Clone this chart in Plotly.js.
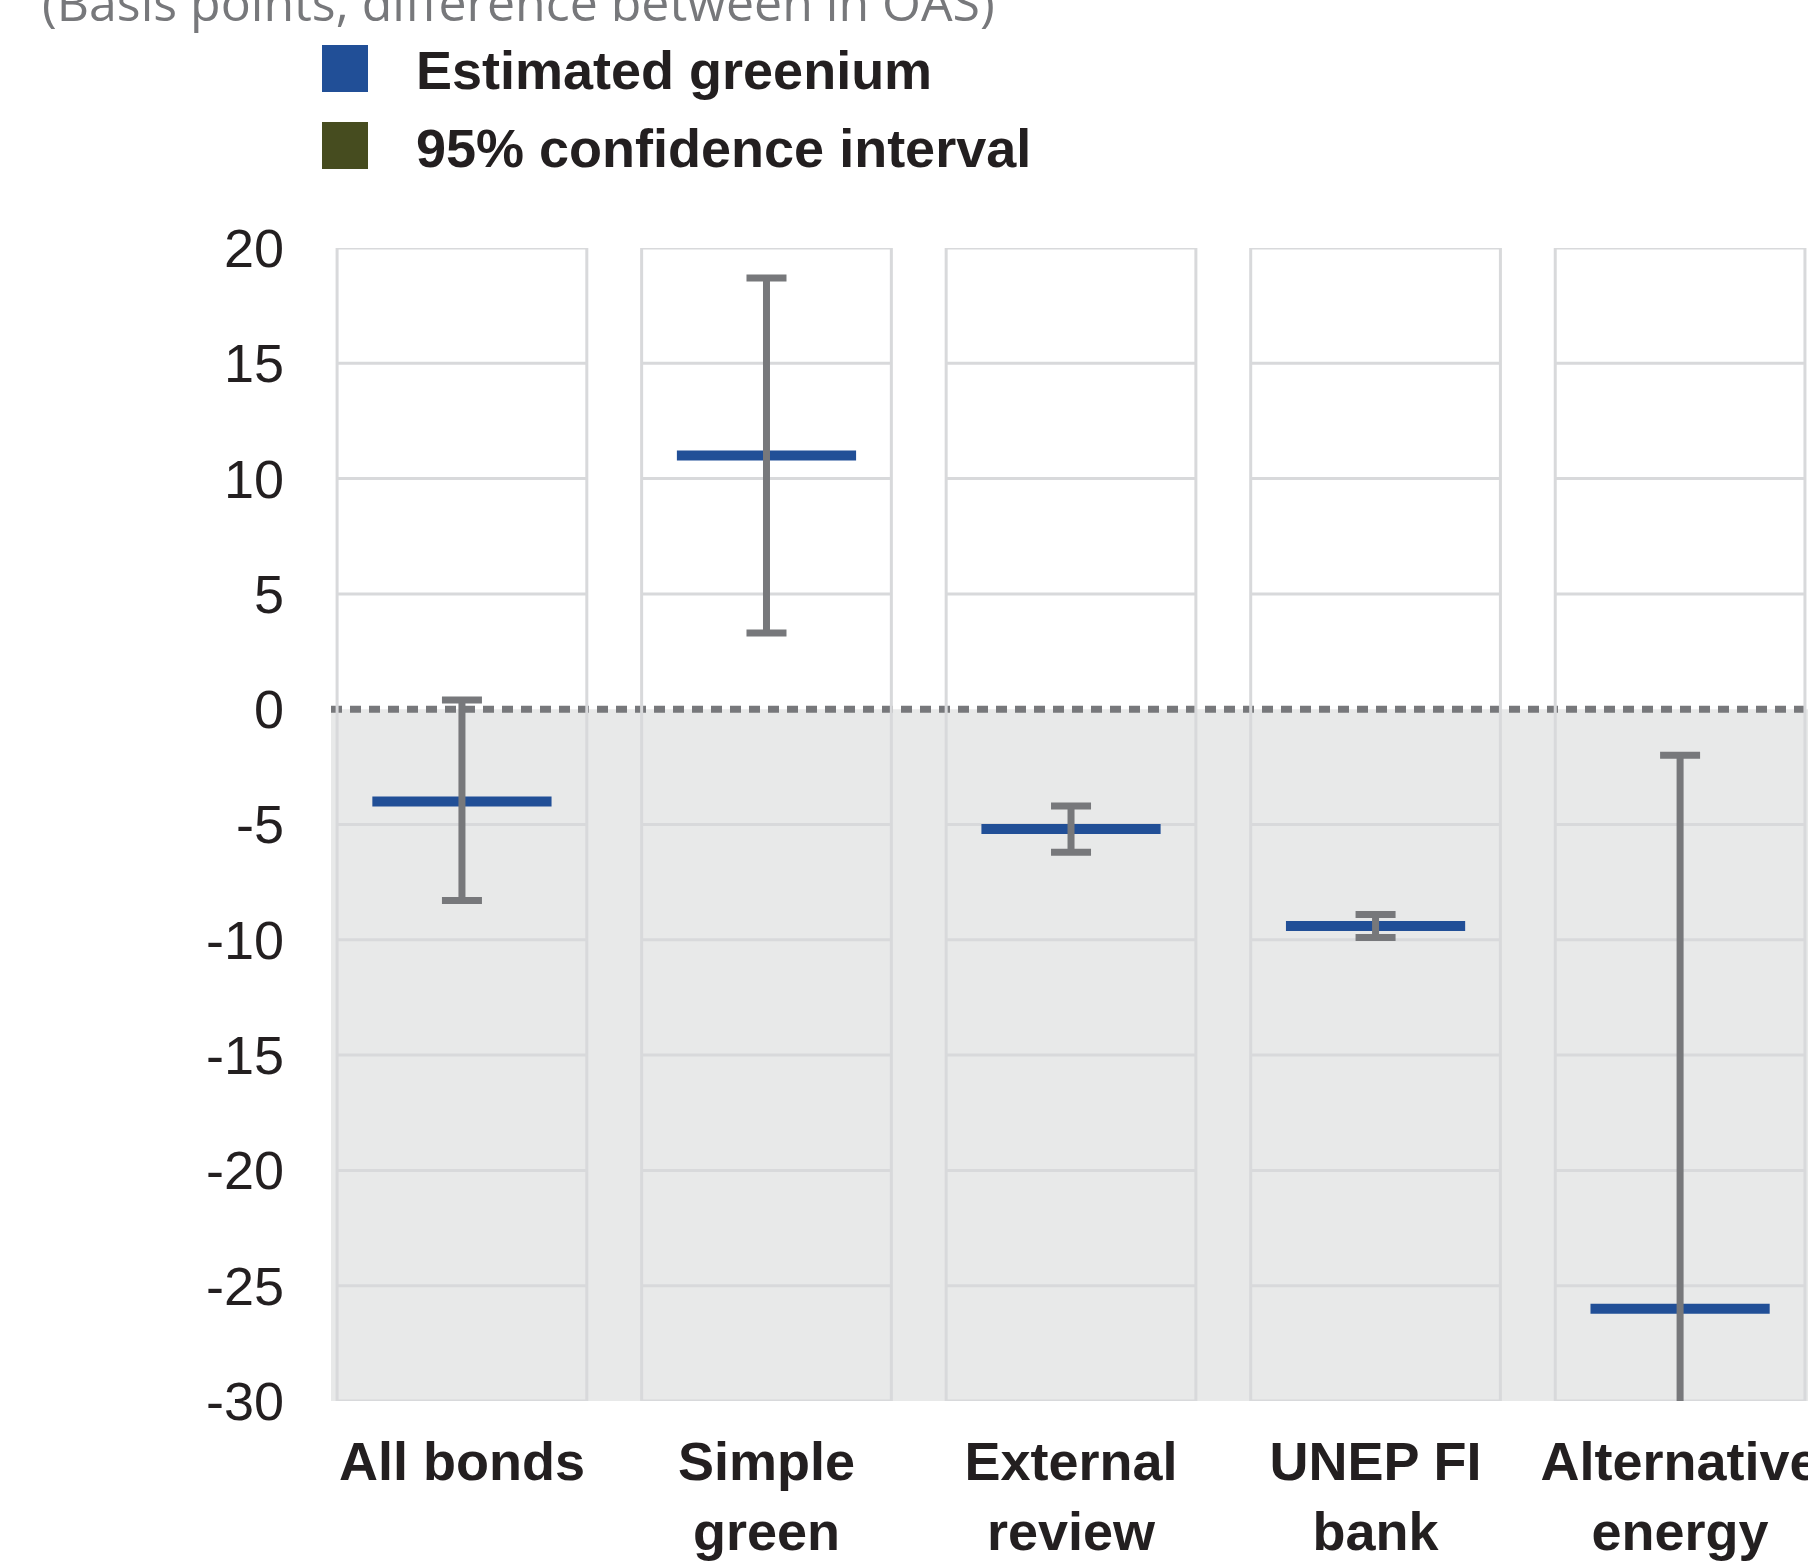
<!DOCTYPE html>
<html>
<head>
<meta charset="utf-8">
<script src="https://cdn.plot.ly/plotly-3.0.1.min.js"></script>
<style>
  html, body { margin: 0; padding: 0; background: #ffffff; }
  #chart { width: 1808px; height: 1566px; }
</style>
</head>
<body>
<div id="chart"></div>
<script>
// ---------------- data ----------------
const categories = ['All bonds', 'Simple<br>green', 'External<br>review', 'UNEP FI<br>bank', 'Alternative<br>energy'];
const greenium   = [-4.0, 11.0, -5.2, -9.4, -26.0];
const ciLower    = [-8.3,  3.3, -6.2, -9.9, -50.0];
const ciUpper    = [ 0.4, 18.7, -4.2, -8.9,  -2.0];
const yTickVals   = [20, 15, 10, 5, 0, -5, -10, -15, -20, -25, -30];
const yTickLabels = ['20', '15', '10', '5', '0', '-5', '-10', '-15', '-20', '-25', '-30'];
const legendLabels = ['Estimated greenium', '95% confidence interval'];
const unitNote = '(Basis points, difference between in OAS)';

// ---------------- layout geometry ----------------
const W = 1808, H = 1566;
const M = { l: 331, r: 0, t: 248, b: 165 };
const plotW = W - M.l - M.r, plotH = H - M.t - M.b;
const px2paperX = p => (p - M.l) / plotW;
const px2paperY = p => (H - M.b - p) / plotH;

const BLUE = '#214f97';
const OLIVE = '#464c1f';
const GREY = '#77787b';
const PANEL_LINE = '#d8d9db';
const SHADE = '#e8e9e9';
const TEXT = '#231f20';
const FONT = '"Liberation Sans", Arial, Helvetica, sans-serif';

const yMin = -30, yMax = 20;
const hw = 0.41;

// ---------------- traces ----------------
const estTrace = {
  type: 'scatter', mode: 'markers', name: legendLabels[0],
  x: categories, y: greenium,
  marker: { symbol: 'line-ew', size: 128, color: BLUE, line: { color: BLUE, width: 10 } },
  showlegend: false, hoverinfo: 'x+y'
};
const ciTrace = {
  type: 'scatter', mode: 'markers', name: legendLabels[1],
  x: categories, y: greenium,
  marker: { size: 1, opacity: 0, color: GREY },
  error_y: {
    type: 'data', symmetric: false,
    array: ciUpper.map((u, i) => u - greenium[i]),
    arrayminus: ciLower.map((l, i) => greenium[i] - l),
    color: GREY, thickness: 7, width: 20
  },
  showlegend: false, hoverinfo: 'skip'
};

// ---------------- shapes ----------------
const shapes = [];
// shaded area below zero
shapes.push({ type: 'rect', xref: 'paper', yref: 'y', x0: 0, x1: 1, y0: yMin, y1: 0,
  fillcolor: SHADE, line: { width: 0 }, layer: 'below' });
// panels and their gridlines
categories.forEach((c, i) => {
  shapes.push({ type: 'rect', xref: 'x', yref: 'y', x0: i - hw, x1: i + hw, y0: yMin, y1: yMax,
    fillcolor: 'rgba(0,0,0,0)', line: { color: PANEL_LINE, width: 3 }, layer: 'below' });
  yTickVals.forEach(v => {
    if (v === yMin || v === yMax || v === 0) return;
    shapes.push({ type: 'line', xref: 'x', yref: 'y', x0: i - hw, x1: i + hw, y0: v, y1: v,
      line: { color: PANEL_LINE, width: 3 }, layer: 'below' });
  });
});
// dotted zero line
shapes.push({ type: 'line', xref: 'paper', yref: 'y', x0: 0, x1: 1, y0: 0, y1: 0,
  line: { color: GREY, width: 7, dash: '11px,8px' }, layer: 'between' });
// legend swatches (paper coords)
const swatches = [
  { color: BLUE, top: 45 },
  { color: OLIVE, top: 122 }
];
swatches.forEach(s => {
  shapes.push({ type: 'rect', xref: 'paper', yref: 'paper',
    x0: px2paperX(322), x1: px2paperX(368), y0: px2paperY(s.top + 47), y1: px2paperY(s.top),
    fillcolor: s.color, line: { width: 0 }, layer: 'above' });
});

// ---------------- annotations ----------------
const annotations = [
  { text: legendLabels[0], xref: 'paper', yref: 'paper', x: px2paperX(414), y: px2paperY(70),
    xanchor: 'left', yanchor: 'middle', showarrow: false,
    font: { family: FONT, size: 54, color: TEXT, weight: 'bold' } },
  { text: legendLabels[1], xref: 'paper', yref: 'paper', x: px2paperX(414), y: px2paperY(148),
    xanchor: 'left', yanchor: 'middle', showarrow: false,
    font: { family: FONT, size: 54, color: TEXT, weight: 'bold' } },
  { text: unitNote, xref: 'paper', yref: 'paper', x: px2paperX(40), y: px2paperY(2),
    xanchor: 'left', yanchor: 'middle', showarrow: false,
    font: { family: '"Open Sans", "Noto Sans", sans-serif', size: 50, color: GREY } }
];

const layout = {
  width: W, height: H,
  margin: M,
  paper_bgcolor: '#ffffff', plot_bgcolor: '#ffffff',
  showlegend: false,
  xaxis: {
    type: 'category', range: [-0.43, 4.42],
    showgrid: false, zeroline: false, showline: false, ticks: '',
    tickfont: { family: FONT, size: 54, color: TEXT, weight: 'bold' },
    ticklabelstandoff: 24, fixedrange: true
  },
  yaxis: {
    range: [yMin, yMax], tickvals: yTickVals, ticktext: yTickLabels,
    showgrid: false, zeroline: false, showline: false, ticks: '',
    tickfont: { family: FONT, size: 54, color: TEXT },
    ticklabelstandoff: 46, fixedrange: true
  },
  shapes: shapes,
  annotations: annotations
};

Plotly.newPlot('chart', [estTrace, ciTrace], layout, { displayModeBar: false, staticPlot: true });
</script>
</body>
</html>
